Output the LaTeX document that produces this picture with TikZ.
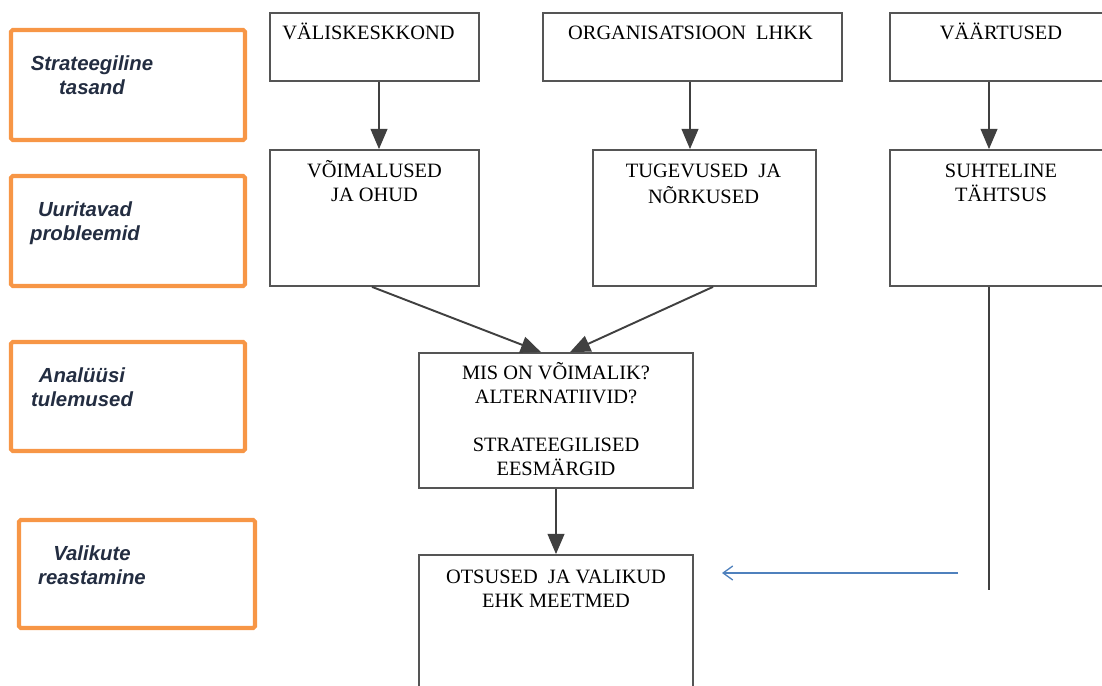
\documentclass[tikz,border=0pt]{standalone}
\usepackage{fontspec}
\setmainfont{Liberation Serif}
\setsansfont{Liberation Sans}
\usetikzlibrary{math,arrows.meta,fit}

\definecolor{oranz}{RGB}{247,150,70}
\definecolor{joon}{RGB}{85,85,85}
\definecolor{noolevarv}{RGB}{64,64,64}
\definecolor{sinine}{RGB}{79,129,189}
\definecolor{tasetekst}{RGB}{35,45,65}

\tikzset{
    kast/.style = {draw=joon, line width=1pt, inner sep=0pt},
    tasekast/.style = {draw=oranz, line width=2.3pt, rounded corners=1pt, inner sep=0pt},
    kiri/.style = {anchor=north, inner sep=0pt, align=center,
        font=\fontsize{11.6}{13.6}\selectfont},
    tasekiri/.style = {anchor=north, inner sep=0pt, align=center, text=tasetekst,
        font=\fontsize{11.6}{13.4}\selectfont\sffamily\bfseries\itshape},
    nool/.style = {draw=noolevarv, line width=1.1pt, -{Triangle[width=9.5pt,length=11.5pt]}},
    sininenool/.style = {draw=sinine, line width=0.75pt, -{Straight Barb[width=8pt,length=5.5pt]}},
}

\begin{document}
\begin{tikzpicture}[x=0.02cm, y=-0.02cm]
    \tikzmath{
        \ya = 13;
        \yb = 81;
        \yc = 150;
        \yd = 286;
        \xa = 379;
        \xb = 690;
        \xc = 989;
    }

\useasboundingbox (0,0) rectangle (1102,686);

% Tasandid (vasak tulp)
\foreach \i/\xl/\yt/\xr/\yl/\xt/\t in {%
        1/11/30/245/140/92/{Strateegiline\\tasand},
        2/11/176/245/286/85/{Uuritavad\\probleemid},
        3/11/342/245/451/82/{Analüüsi\\tulemused},
        4/19/520/255/628/92/{Valikute\\reastamine}} {
    \node[tasekast, fit={(\xl,\yt) (\xr,\yl)}] (tase\i) {};
    \node[tasekiri] (tasekiri\i) at (\xt,\yt+24) {\strut\t};
}

% Esimene rida
\node[kast, fit={(270,\ya) (479,\yb)}] (vk) {};
\node[kast, fit={(543,\ya) (842,\yb)}] (org) {};
\node[kast, fit={(890,\ya) (1112,\yb)}] (vaar) {};

\node[kiri, anchor=north west] (vk-t) at ([shift={(13,10)}]vk.north west) {\strut VÄLISKESKKOND};
\node[kiri] (org-t) at ([shift={(-2,10)}]org.north) {\strut ORGANISATSIOON\ \ LHKK};
\node[kiri] (vaar-t) at ([shift={(0,10)}]vaar.north) {\strut VÄÄRTUSED};

% Teine rida
\node[kast, fit={(270,\yc) (479,\yd)}] (voim) {};
\node[kast, fit={(593,\yc) (816,\yd)}] (tug) {};
\node[kast, fit={(890,\yc) (1112,\yd)}] (suht) {};

\node[kiri] (voim-t) at ([shift={(0,11)}]voim.north) {\strut VÕIMALUSED\\JA OHUD};
\node[kiri] (tug-t) at ([shift={(-1,11)}]tug.north) {\strut TUGEVUSED\ \ JA\\NÕRKUSED};
\node[kiri] (suht-t) at ([shift={(0,11)}]suht.north) {\strut SUHTELINE\\TÄHTSUS};

% Tulemused ja otsused
\node[kast, fit={(419,353) (693,488)}] (mis) {};
\node[kast, fit={(419,555) (693,720)}] (ots) {};

\node[kiri] (mis-t) at ([shift={(0,10)}]mis.north) {\strut MIS ON VÕIMALIK?\\ALTERNATIIVID?\\[13.6pt]STRATEEGILISED\\EESMÄRGID};
\node[kiri] (ots-t) at ([shift={(0,12)}]ots.north) {\strut OTSUSED\ \ JA VALIKUD\\EHK MEETMED};

% Nooled
\draw[nool] (vk.south -| \xa,0) -- (voim.north -| \xa,0);
\draw[nool] (org.south -| \xb,0) -- (tug.north -| \xb,0);
\draw[nool] (vaar.south -| \xc,0) -- (suht.north -| \xc,0);

\draw[nool] ([xshift=-0.05cm]voim.south) -- ([xshift=-0.3cm]mis.north);
\draw[nool] ([xshift=0.17cm]tug.south) -- ([xshift=0.28cm]mis.north);
\draw[nool] (mis.south) -- (ots.north);

% Suhteline tähtsus -> otsused
\coordinate (joonots) at (\xc,590);
\coordinate (sinalgus) at (958,573);
\coordinate (sinots) at (722,573);
\draw[draw=noolevarv, line width=0.9pt] (suht.south -| \xc,0) -- (joonots);
\draw[sininenool] (sinalgus) -- (sinots);

\end{tikzpicture}
\end{document}
